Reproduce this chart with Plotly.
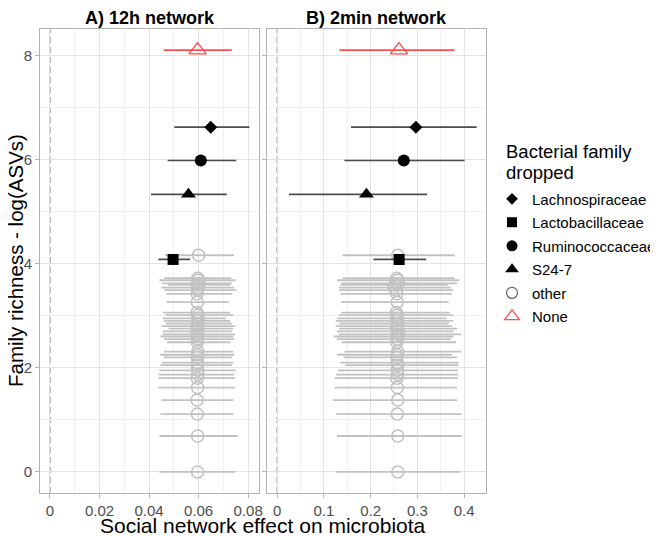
import plotly.graph_objects as go

# ---------------- data ----------------
families = ["Lachnospiraceae", "Lactobacillaceae", "Ruminococcaceae", "S24-7"]
fam_y = [6.62, 4.08, 5.98, 5.33]
# panel A (12h network)
fam_est_a = [0.0649, 0.0497, 0.0609, 0.0559]
fam_lo_a = [0.0502, 0.0438, 0.0475, 0.0408]
fam_hi_a = [0.0805, 0.0566, 0.0752, 0.0714]
# panel B (2min network)
fam_est_b = [0.297, 0.261, 0.271, 0.191]
fam_lo_b = [0.158, 0.206, 0.144, 0.025]
fam_hi_b = [0.427, 0.319, 0.401, 0.321]

none_y = [8.10]
none_est_a = [0.0596]
none_lo_a = [0.0459]
none_hi_a = [0.0734]
none_est_b = [0.2607]
none_lo_b = [0.133]
none_hi_b = [0.3795]

other_y = [4.16, 3.72, 3.68, 3.62, 3.59, 3.54, 3.49, 3.42, 3.26, 3.06, 3.01, 2.95,
           2.90, 2.85, 2.80, 2.75, 2.70, 2.64, 2.60, 2.55, 2.49, 2.31, 2.25, 2.20,
           2.10, 2.05, 1.95, 1.87, 1.80, 1.62, 1.38, 1.11, 0.69, 0.00]
other_est_a = [0.0600, 0.0597, 0.0599, 0.0601, 0.0595, 0.0598, 0.0596, 0.0594, 0.0595,
               0.0594, 0.0597, 0.0598, 0.0596, 0.0595, 0.0594, 0.0597, 0.0596, 0.0594,
               0.0597, 0.0596, 0.0595, 0.0597, 0.0596, 0.0595, 0.0596, 0.0595, 0.0596,
               0.0597, 0.0595, 0.0596, 0.0594, 0.0595, 0.0596, 0.0596]
other_lo_a = [0.0465, 0.0462, 0.0442, 0.0453, 0.0477, 0.0449, 0.0462, 0.0470, 0.0470,
              0.0456, 0.0467, 0.0456, 0.0460, 0.0467, 0.0450, 0.0479, 0.0456, 0.0456,
              0.0446, 0.0460, 0.0473, 0.0460, 0.0446, 0.0460, 0.0453, 0.0446, 0.0442,
              0.0439, 0.0437, 0.0437, 0.0450, 0.0446, 0.0442, 0.0442]
other_hi_a = [0.0743, 0.0732, 0.0750, 0.0735, 0.0728, 0.0744, 0.0753, 0.0734, 0.0722,
              0.0727, 0.0740, 0.0710, 0.0727, 0.0734, 0.0747, 0.0740, 0.0734, 0.0747,
              0.0740, 0.0744, 0.0730, 0.0740, 0.0744, 0.0735, 0.0740, 0.0735, 0.0750,
              0.0744, 0.0747, 0.0747, 0.0740, 0.0740, 0.0758, 0.0747]
other_est_b = [0.258, 0.256, 0.258, 0.259, 0.252, 0.250, 0.255, 0.256, 0.257,
               0.255, 0.256, 0.257, 0.256, 0.258, 0.257, 0.255, 0.258, 0.260,
               0.256, 0.257, 0.256, 0.258, 0.257, 0.256, 0.257, 0.258, 0.257,
               0.258, 0.256, 0.257, 0.258, 0.257, 0.258, 0.258]
other_lo_b = [0.140, 0.140, 0.128, 0.138, 0.135, 0.132, 0.133, 0.136, 0.137,
              0.137, 0.132, 0.128, 0.126, 0.133, 0.125, 0.132, 0.128, 0.132,
              0.121, 0.128, 0.138, 0.144, 0.128, 0.142, 0.135, 0.146, 0.130,
              0.126, 0.123, 0.123, 0.119, 0.126, 0.128, 0.125]
other_hi_b = [0.380, 0.380, 0.390, 0.385, 0.365, 0.372, 0.377, 0.374, 0.367,
              0.370, 0.377, 0.363, 0.377, 0.367, 0.374, 0.385, 0.377, 0.394,
              0.377, 0.372, 0.383, 0.394, 0.374, 0.385, 0.388, 0.388, 0.387,
              0.388, 0.387, 0.385, 0.385, 0.395, 0.395, 0.392]

x_ticks_a = [0, 0.02, 0.04, 0.06, 0.08]
x_ticklabels_a = ["0", "0.02", "0.04", "0.06", "0.08"]
x_ticks_b = [0, 0.1, 0.2, 0.3, 0.4]
x_ticklabels_b = ["0", "0.1", "0.2", "0.3", "0.4"]
y_ticks = [0, 2, 4, 6, 8]

# ---------------- styling ----------------
FONT = "Liberation Sans, Arial, sans-serif"
fam_symbols = {"Lachnospiraceae": "diamond", "Lactobacillaceae": "square",
               "Ruminococcaceae": "circle", "S24-7": "triangle-up"}
fam_sizes = {"Lachnospiraceae": 10, "Lactobacillaceae": 11,
             "Ruminococcaceae": 12, "S24-7": 13}
OTHER_C = "#c2c2c2"
FAM_LINE = "#4d4d4d"
RED = "#ff4c4c"


def minus(est, lo):
    return [e - l for e, l in zip(est, lo)]


def plus(est, hi):
    return [h - e for e, h in zip(est, hi)]


fig = go.Figure()

panels = [
    ("x", "y", other_est_a, other_lo_a, other_hi_a, fam_est_a, fam_lo_a, fam_hi_a,
     none_est_a, none_lo_a, none_hi_a),
    ("x2", "y2", other_est_b, other_lo_b, other_hi_b, fam_est_b, fam_lo_b, fam_hi_b,
     none_est_b, none_lo_b, none_hi_b),
]

for (xa, ya, oe, ol, oh, fe, fl, fh, ne, nl, nh) in panels:
    fig.add_trace(go.Scatter(
        x=oe, y=other_y, xaxis=xa, yaxis=ya, mode="markers", showlegend=False,
        marker=dict(symbol="circle-open", size=12, color=OTHER_C, line=dict(width=1.5)),
        error_x=dict(type="data", symmetric=False, array=plus(oe, oh),
                     arrayminus=minus(oe, ol), width=0, thickness=1.8, color=OTHER_C),
        hoverinfo="skip"))
    for i, f in enumerate(families):
        fig.add_trace(go.Scatter(
            x=[fe[i]], y=[fam_y[i]], xaxis=xa, yaxis=ya, mode="markers", showlegend=False,
            marker=dict(symbol=fam_symbols[f], size=fam_sizes[f], color="black"),
            error_x=dict(type="data", symmetric=False, array=[fh[i] - fe[i]],
                         arrayminus=[fe[i] - fl[i]], width=0, thickness=1.7, color=FAM_LINE),
            hoverinfo="skip"))
    fig.add_trace(go.Scatter(
        x=ne, y=none_y, xaxis=xa, yaxis=ya, mode="markers", showlegend=False,
        marker=dict(symbol="triangle-up-open", size=15, color=RED, line=dict(width=1.3)),
        error_x=dict(type="data", symmetric=False, array=plus(ne, nh),
                     arrayminus=minus(ne, nl), width=0, thickness=1.7, color=RED),
        hoverinfo="skip"))

# legend-only traces
for f in families:
    fig.add_trace(go.Scatter(x=[None], y=[None], mode="markers", name=f,
                             legendgroup=f,
                             marker=dict(symbol=fam_symbols[f], size=fam_sizes[f] - 1,
                                         color="black")))
fig.add_trace(go.Scatter(x=[None], y=[None], mode="markers", name="other", legendgroup="other",
                         marker=dict(symbol="circle-open", size=11, color="#666666",
                                     line=dict(width=1.2))))
fig.add_trace(go.Scatter(x=[None], y=[None], mode="markers", name="None", legendgroup="None",
                         marker=dict(symbol="triangle-up-open", size=13, color=RED,
                                     line=dict(width=1.3))))

for xa in ["x", "x2"]:
    fig.add_shape(type="line", xref=xa, yref="paper", x0=0, x1=0, y0=0, y1=1,
                  line=dict(color="#aaaaaa", width=1.8, dash="6px,4px"), layer="below")

GRID = "#e3e3e3"
MINOR = "#f1f1f1"
BORDER = "#b3b3b3"
common_x = dict(showline=True, linecolor=BORDER, linewidth=1, mirror=True,
                ticks="outside", ticklen=4, tickcolor=BORDER, zeroline=False,
                showgrid=True, gridcolor=GRID, gridwidth=1, automargin=False,
                tickfont=dict(family=FONT, size=15, color="#4d4d4d"))
fig.update_layout(
    # the page body adds an 8px offset, so the figure is 8px smaller than the window
    width=650, height=528,
    paper_bgcolor="white", plot_bgcolor="white",
    margin=dict(l=32, r=172, t=21, b=43, autoexpand=False),
    font=dict(family=FONT, color="black"),
    xaxis=dict(domain=[0, 0.4917], range=[-0.004, 0.0845], tickvals=x_ticks_a,
               ticktext=x_ticklabels_a, anchor="y",
               minor=dict(dtick=0.01, tick0=0.01, showgrid=True, gridcolor=MINOR, gridwidth=1,
                          ticks=""),
               **common_x),
    xaxis2=dict(domain=[0.5096, 1], range=[-0.0213, 0.447], tickvals=x_ticks_b,
                ticktext=x_ticklabels_b, anchor="y2",
                minor=dict(dtick=0.05, tick0=0.05, showgrid=True, gridcolor=MINOR, gridwidth=1,
                           ticks=""),
                **common_x),
    yaxis=dict(range=[-0.405, 8.505], tickvals=y_ticks, anchor="x",
               minor=dict(dtick=1, tick0=1, showgrid=True, gridcolor=MINOR, gridwidth=1, ticks=""),
               **common_x),
    yaxis2=dict(range=[-0.405, 8.505], tickvals=y_ticks, anchor="x2", matches="y",
                showticklabels=False,
                minor=dict(dtick=1, tick0=1, showgrid=True, gridcolor=MINOR, gridwidth=1, ticks=""),
                **common_x),
    legend=dict(x=1.0135, xanchor="left", y=0.669, yanchor="top",
                font=dict(family=FONT, size=15), traceorder="grouped", tracegroupgap=1,
                bgcolor="rgba(0,0,0,0)"),
    annotations=[
        dict(text="<b>A) 12h network</b>", xref="paper", yref="paper", x=0.2459, y=1,
             yshift=11, xanchor="center", yanchor="middle", showarrow=False,
             font=dict(family=FONT, size=18)),
        dict(text="<b>B) 2min network</b>", xref="paper", yref="paper", x=0.7548, y=1,
             yshift=11, xanchor="center", yanchor="middle", showarrow=False,
             font=dict(family=FONT, size=18)),
        dict(text="Social network effect on microbiota", xref="paper", yref="paper",
             x=0.5, y=0, yshift=-32, xanchor="center", yanchor="middle", showarrow=False,
             font=dict(family=FONT, size=21)),
        dict(text="Family richness - log(ASVs)", xref="paper", yref="paper",
             x=0, xshift=-25, y=0.5, textangle=-90, xanchor="center", yanchor="middle",
             showarrow=False, font=dict(family=FONT, size=20.5)),
        dict(text="Bacterial family", xref="paper", yref="paper", x=1.04, y=1,
             yshift=-122, xanchor="left", yanchor="middle", showarrow=False,
             font=dict(family=FONT, size=18.5)),
        dict(text="dropped", xref="paper", yref="paper", x=1.04, y=1,
             yshift=-143, xanchor="left", yanchor="middle", showarrow=False,
             font=dict(family=FONT, size=18.5)),
    ],
)

fig.write_html("out.html")
